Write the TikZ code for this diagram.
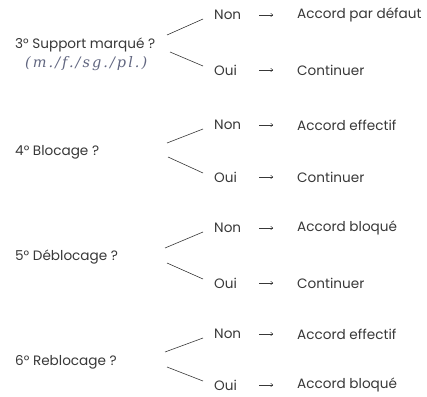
\documentclass[tikz,border=0pt]{standalone}
\usepackage{fontspec}
\usetikzlibrary{arrows.meta}
\setmainfont{Poppins}
\newfontfamily\handfont[LetterSpace=14]{DejaVu Serif}
\definecolor{ink}{gray}{0.22}
\definecolor{pen}{rgb}{0.38,0.40,0.50}
\begin{document}
\begin{tikzpicture}[x=1pt,y=-1pt,
  txt/.style={anchor=west,inner sep=0pt,text=ink,font=\fontsize{13.6}{15}\selectfont},
  branch/.style={draw=ink,line width=0.6pt},
  arr/.style={draw=ink,line width=0.5pt,-{To[length=2.5pt,width=4pt]}}]
\useasboundingbox (0,0) rectangle (427,396);
% questions
\node[txt] (q1) at (15,45) {3° Support marqué ?};
\node[anchor=west,inner sep=0pt,text=pen,font=\handfont\itshape\fontsize{14.5}{16}\selectfont] (hw) at (25,64) {(m./f./sg./pl.)};
\node[txt] (q2) at (15,152) {4° Blocage ?};
\node[txt] (q3) at (15,257) {5° Déblocage ?};
\node[txt] (q4) at (15,362) {6° Reblocage ?};
% answers
\foreach \i/\ny/\oy in {1/15/70,2/125/177,3/228/283,4/334/385}{
  \node[txt] (n\i) at (214,\ny) {Non};
  \node[txt] (o\i) at (214,\oy) {Oui};
}
\node[txt] (r1) at (297,15) {Accord par défaut};
\node[txt] (s1) at (297,70) {Continuer};
\node[txt] (r2) at (297,125) {Accord effectif};
\node[txt] (s2) at (297,177) {Continuer};
\node[txt] (r3) at (297,228) {Accord bloqué};
\node[txt] (s3) at (297,283) {Continuer};
\node[txt] (r4) at (297,334) {Accord effectif};
\node[txt] (s4) at (297,385) {Accord bloqué};
% branch start points
\coordinate (u1) at (167,35); \coordinate (l1) at (170,52);
\coordinate (u2) at (167,143); \coordinate (l2) at (168,157);
\coordinate (u3) at (165,248); \coordinate (l3) at (167,263);
\coordinate (u4) at (165,352); \coordinate (l4) at (167,367);
\foreach \i in {1,2,3,4}{
  \draw[branch] (u\i) -- ([xshift=-11pt,yshift=-4pt]n\i.west);
  \draw[branch] (l\i) -- ([xshift=-11pt,yshift=4pt]o\i.west);
}
\foreach \a in {r1,s1,r2,s2,r3,s3,r4,s4}{
  \draw[arr] ([xshift=-38pt]\a.west) -- ([xshift=-24pt]\a.west);
}
\end{tikzpicture}
\end{document}
